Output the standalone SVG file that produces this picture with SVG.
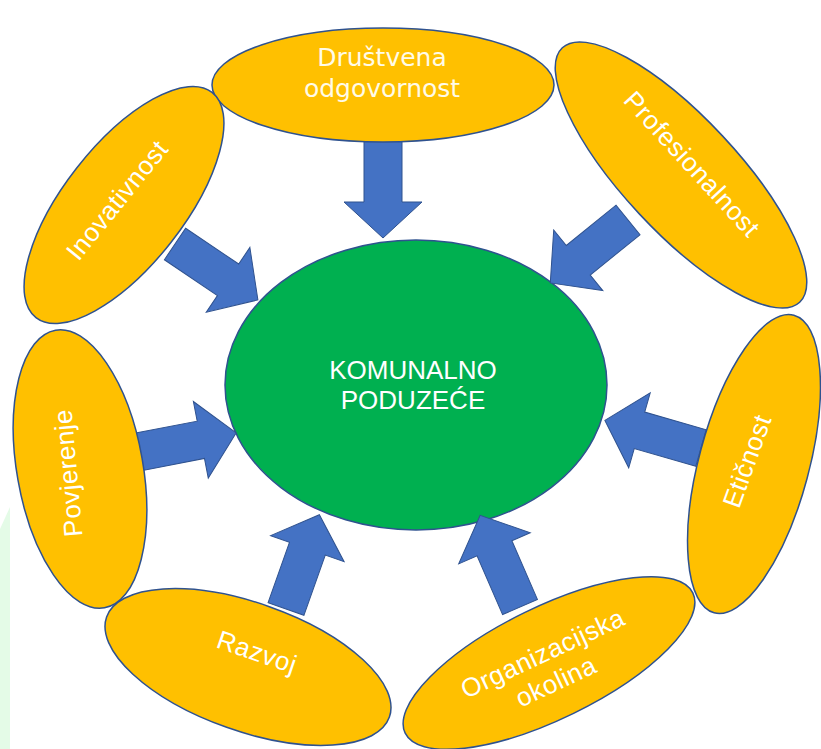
<svg xmlns="http://www.w3.org/2000/svg" width="821" height="749" viewBox="0 0 821 749">
<style>
.outer{fill:#ffc000;stroke:#2f528f;stroke-width:1.5}
.center{fill:#00b050;stroke:#2f528f;stroke-width:1.5}
.arr{fill:#4472c4;stroke:#2f528f;stroke-width:1}
.lbl{font-family:"Liberation Sans",Arial,sans-serif;font-size:26px;fill:#ffffff;text-anchor:middle;letter-spacing:0.5px}
.lbl2{font-family:"DejaVu Sans",sans-serif;font-size:25px;fill:#fffbe8;text-anchor:middle}
</style>
<defs>
<path id="arrow" d="M0,-19 L64,-19 L64,-39 L100,0 L64,39 L64,19 L0,19 Z"/>
</defs>
<rect width="821" height="749" fill="#ffffff"/>
<polygon points="0,529 10,507 10,749 0,749" fill="#e4fbe7"/>
<g id="komunalno-poduzece">
<ellipse class="center" cx="416" cy="385" rx="191" ry="145"/>
<text class="lbl" x="413" y="379" style="letter-spacing:0">KOMUNALNO</text>
<text class="lbl" x="413" y="409" style="letter-spacing:0">PODUZEĆE</text>
</g>
<g id="connectors">
<use href="#arrow" class="arr" transform="translate(383,138) rotate(90)"/>
<use href="#arrow" class="arr" transform="translate(175,244) rotate(34)"/>
<use href="#arrow" class="arr" transform="translate(628,220) rotate(141)"/>
<use href="#arrow" class="arr" transform="translate(138,452) rotate(-11)"/>
<use href="#arrow" class="arr" transform="translate(701,448) rotate(196)"/>
<use href="#arrow" class="arr" transform="translate(286,609) rotate(-70.5)"/>
<use href="#arrow" class="arr" transform="translate(520,607) rotate(-113.5)"/>
</g>
<g id="drustvena-odgovornost">
<ellipse class="outer" cx="383" cy="85" rx="171" ry="57"/>
<text class="lbl2" x="382" y="66">Društvena</text>
<text class="lbl2" x="382" y="97">odgovornost</text>
</g>
<g id="inovativnost">
<ellipse class="outer" cx="0" cy="0" rx="143" ry="60" transform="translate(124,205) rotate(-52)"/>
<text class="lbl" x="0" y="9" transform="translate(117,200) rotate(-51)">Inovativnost</text>
</g>
<g id="profesionalnost">
<ellipse class="outer" cx="0" cy="0" rx="174" ry="57" transform="translate(681,175) rotate(47)"/>
<text class="lbl" x="0" y="9" transform="translate(692,164) rotate(47.5)">Profesionalnost</text>
</g>
<g id="povjerenje">
<ellipse class="outer" cx="0" cy="0" rx="141" ry="63" transform="translate(80,469) rotate(80)"/>
<text class="lbl" x="0" y="9" transform="translate(68,473) rotate(-95)">Povjerenje</text>
</g>
<g id="eticnost">
<ellipse class="outer" cx="0" cy="0" rx="154" ry="55" transform="translate(754,464) rotate(-75)"/>
<text class="lbl" x="0" y="9" transform="translate(747,461) rotate(-70)">Etičnost</text>
</g>
<g id="razvoj">
<ellipse class="outer" cx="0" cy="0" rx="150" ry="64" transform="translate(248,667) rotate(19.5)"/>
<text class="lbl" x="0" y="9" transform="translate(257,652) rotate(19)">Razvoj</text>
</g>
<g id="organizacijska-okolina">
<ellipse class="outer" cx="0" cy="0" rx="160" ry="56" transform="translate(549,663) rotate(-26)"/>
<g transform="translate(549,667) rotate(-25)">
<text class="lbl" x="0" y="-6">Organizacijska</text>
<text class="lbl" x="0" y="25">okolina</text>
</g>
</g>
</svg>
